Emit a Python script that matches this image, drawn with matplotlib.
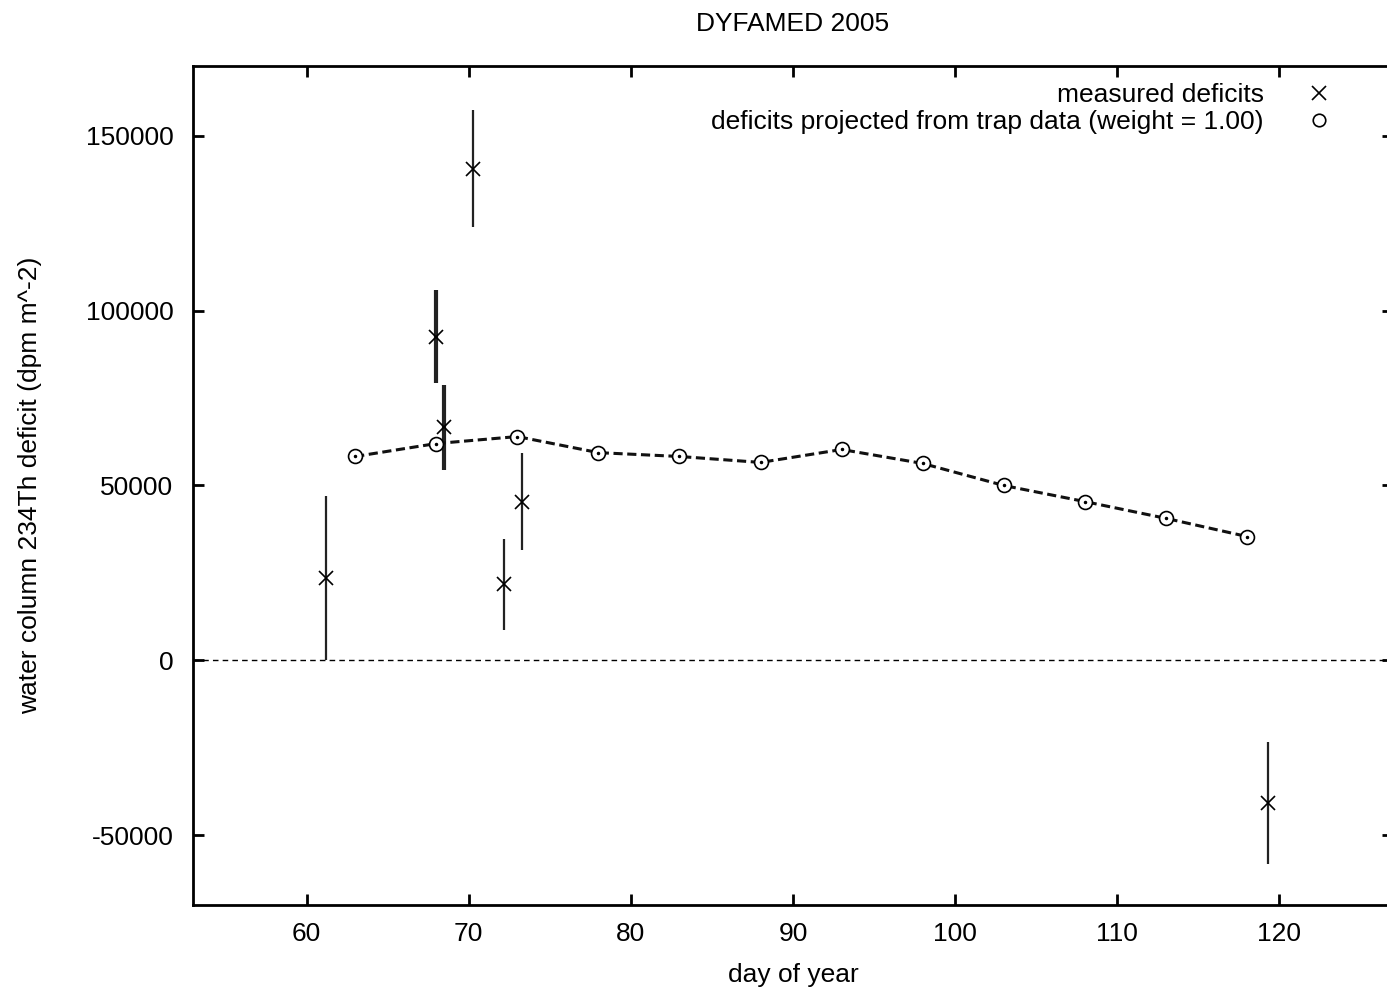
import matplotlib
matplotlib.use("Agg")
import matplotlib.pyplot as plt
from matplotlib.lines import Line2D

plt.rcParams['font.family'] = ['Liberation Sans', 'DejaVu Sans']
plt.rcParams['axes.unicode_minus'] = False

# measured deficits
meas_day = [61.2, 68.0, 68.5, 70.25, 72.2, 73.3, 119.3]
meas_val = [23500, 92600, 66600, 140600, 21700, 45400, -40900]
meas_err = [23500, 13400, 12200, 16700, 13100, 13900, 17400]
meas_lw = [1.6, 3.0, 3.0, 1.6, 1.6, 1.6, 1.6]

# projected deficits
proj_day = [63, 68, 73, 78, 83, 88, 93, 98, 103, 108, 113, 118]
proj_val = [58300, 62000, 64000, 59400, 58300, 56600, 60300, 56300, 50000, 45400, 40600, 35400]

xticks = [60, 70, 80, 90, 100, 110, 120]
yticks = [-50000, 0, 50000, 100000, 150000]

FS = 19
W, H = 1387, 996
fig = plt.figure(figsize=(W / 100, H / 100), dpi=100)
ax = fig.add_axes([193 / W, 1 - 905 / H, (1393 - 193) / W, (905 - 66) / H])

ax.axhline(0, color='black', lw=1.0, ls=(0, (4, 3)))

for d, v, e, lw in zip(meas_day, meas_val, meas_err, meas_lw):
    ax.errorbar([d], [v], yerr=[e], fmt='none', ecolor='#222222', elinewidth=lw, capsize=0)
ax.plot(meas_day, meas_val, ls='none', marker='x', ms=10, mew=1.2, color='black')

ax.plot(proj_day, proj_val, color='#111111', lw=2.2, ls=(0, (3, 1.5)))
ax.plot(proj_day, proj_val, ls='none', marker='o', ms=10, mfc='white', mec='black', mew=1.2)
ax.plot(proj_day, proj_val, ls='none', marker='.', ms=3, color='black')

ax.set_xlim(53, 127)
ax.set_ylim(-70000, 170000)
ax.set_xticks(xticks)
ax.set_yticks(yticks)
ax.tick_params(direction='in', length=8, width=2, top=True, right=True, labelsize=FS)
ax.tick_params(axis='y', pad=14)
ax.tick_params(axis='x', pad=12)
for s in ax.spines.values():
    s.set_linewidth(2)

fig.text(793 / W, 1 - 24 / H, 'DYFAMED 2005', fontsize=FS, ha='center', va='center')
fig.text(793 / W, 1 - 975 / H, 'day of year', fontsize=FS, ha='center', va='center')
fig.text(30 / W, 1 - 485 / H, 'water column 234Th deficit (dpm m^-2)', fontsize=FS,
         ha='center', va='center', rotation=90)

h1 = Line2D([], [], ls='none', marker='x', ms=10, mew=1.2, color='black')
h2 = Line2D([], [], ls='none', marker='o', ms=9, mfc='white', mec='black', mew=1.2)
leg = ax.legend([h1, h2], ['measured deficits', 'deficits projected from trap data (weight = 1.00)'],
                loc='upper right', bbox_to_anchor=((1352 - 193) / (1393 - 193), 1.0),
                frameon=False, fontsize=FS, markerfirst=False, handlelength=1.2,
                handletextpad=1.5, labelspacing=0.1, borderaxespad=0.25)
for t in leg.get_texts():
    t.set_ha('right')
leg._legend_box.align = 'right'

fig.savefig('out.png', dpi=100)
